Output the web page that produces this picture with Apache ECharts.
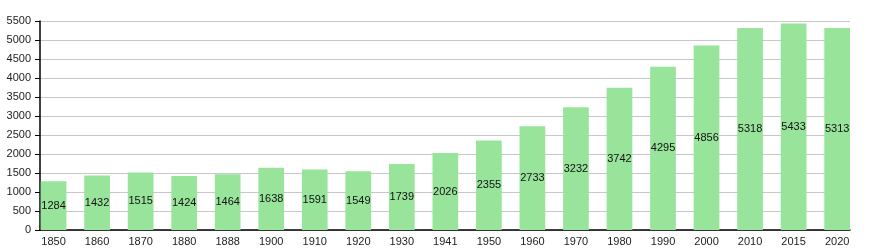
<!DOCTYPE html>
<html>
<head>
<meta charset="utf-8">
<script src="https://cdn.jsdelivr.net/npm/echarts@6/dist/echarts.min.js"></script>
<style>html,body{margin:0;padding:0;background:#fff;}#c{width:885px;height:250px;}</style>
</head>
<body>
<div id="c"></div>
<script>
var years = ['1850','1860','1870','1880','1888','1900','1910','1920','1930','1941','1950','1960','1970','1980','1990','2000','2010','2015','2020'];
var population = [1284,1432,1515,1424,1464,1638,1591,1549,1739,2026,2355,2733,3232,3742,4295,4856,5318,5433,5313];
var yTicks = {min: 0, max: 5500, interval: 500};

var font = 'Liberation Sans, Arial, sans-serif';
var chart = echarts.init(document.getElementById('c'), null, {renderer: 'canvas'});
chart.setOption({
  animation: false,
  grid: [
    {left: 40, right: 35, top: 21, bottom: 20, containLabel: false},
    {left: 31.8, right: 26.1, top: 21, bottom: 20, containLabel: false}
  ],
  xAxis: [
    {type: 'value', gridIndex: 0, min: 0, max: 1, show: true,
     axisLine: {show: true, onZero: false, lineStyle: {color: '#000', width: 1.5}},
     axisTick: {show: false}, axisLabel: {show: false}, splitLine: {show: false}},
    {type: 'category', gridIndex: 1, data: years,
     axisLine: {show: false}, axisTick: {show: false},
     axisLabel: {color: '#222', fontSize: 11, fontFamily: font, margin: 6},
     splitLine: {show: false}}
  ],
  yAxis: [
    {type: 'value', gridIndex: 0, min: yTicks.min, max: yTicks.max, interval: yTicks.interval,
     axisLine: {show: true, lineStyle: {color: '#000', width: 1.5}},
     axisTick: {show: true, length: 5, lineStyle: {color: '#000'}},
     axisLabel: {color: '#222', fontSize: 11, fontFamily: font, margin: 9,
                 formatter: function (v) { return String(v); }},
     splitLine: {show: true, lineStyle: {color: '#c8c8c8', width: 1}}},
    {type: 'value', gridIndex: 1, min: yTicks.min, max: yTicks.max, interval: yTicks.interval,
     show: false, splitLine: {show: false}}
  ],
  series: [{
    type: 'bar', xAxisIndex: 1, yAxisIndex: 1, data: population,
    barCategoryGap: '41%',
    itemStyle: {color: '#98e49a'},
    label: {show: true, position: 'inside', color: '#111', fontSize: 11, fontFamily: font}
  }]
});
</script>
</body>
</html>
